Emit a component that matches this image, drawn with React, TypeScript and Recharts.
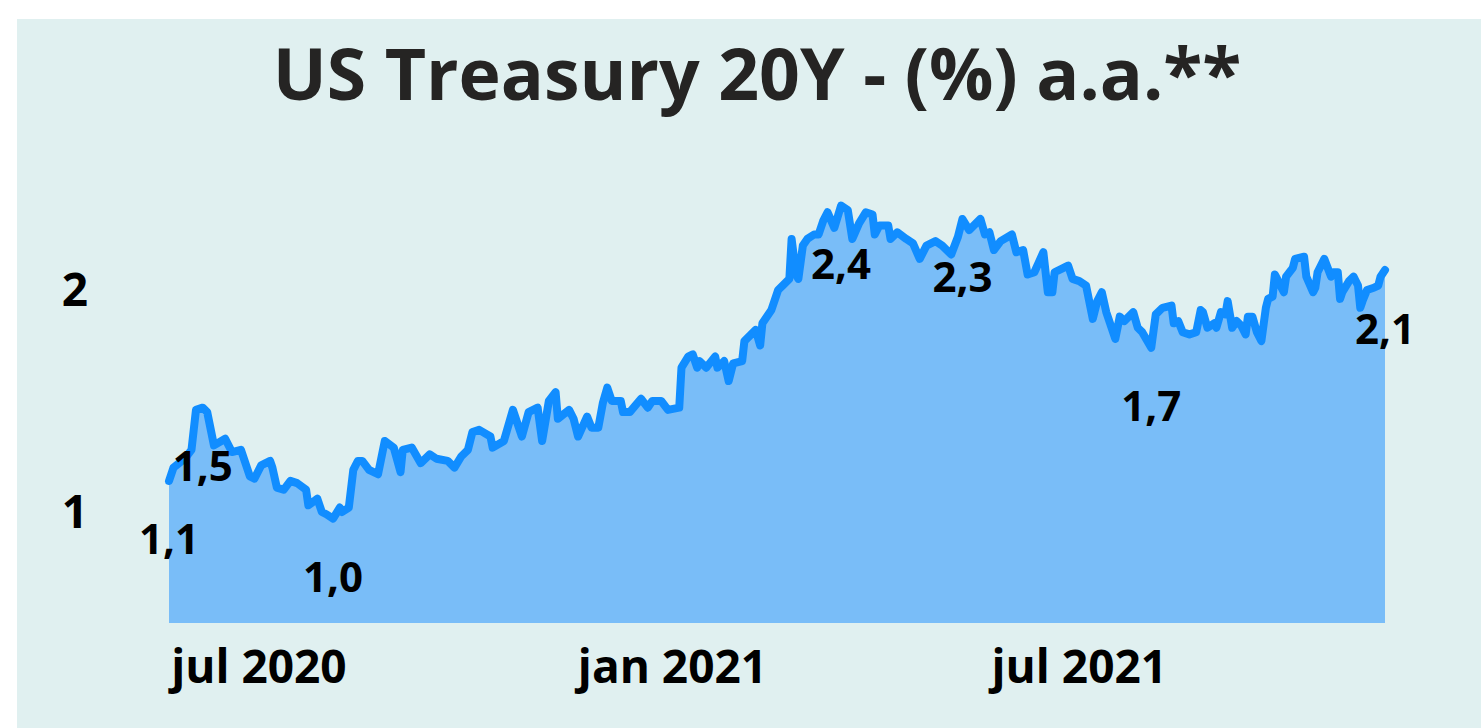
import React from 'react';
import { AreaChart, Area, XAxis, YAxis } from 'recharts';

const startDate = '2020-05-22';
// calendar days since startDate for each observation
const dayOffsets = [
  0, 2, 7, 10, 12, 15, 17, 20, 25, 28, 32, 36, 38, 41, 45, 46, 48, 51, 54, 57,
  61, 62, 66, 68, 70, 73, 76, 77, 80, 82, 84, 86, 89, 93, 96, 100, 103, 104, 108, 112,
  116, 119, 124, 127, 130, 133, 135, 138, 143, 144, 149, 153, 157, 160, 164, 166, 169, 172, 173, 178,
  180, 182, 186, 188, 191, 193, 195, 197, 201, 202, 205, 210, 213, 215, 219, 222, 227, 228, 231, 233,
  235, 236, 239, 243, 244, 247, 249, 251, 255, 256, 260, 261, 263, 264, 268, 271, 273, 276, 277, 279,
  280, 282, 284, 287, 289, 291, 293, 296, 299, 302, 304, 307, 310, 313, 314, 316, 320, 321, 324, 328,
  331, 334, 337, 341, 344, 348, 351, 353, 356, 361, 363, 365, 367, 370, 375, 377, 380, 382, 385, 389,
  391, 393, 394, 400, 402, 405, 408, 411, 413, 415, 417, 421, 423, 425, 429, 431, 433, 437, 439, 442,
  446, 447, 449, 451, 454, 457, 459, 460, 462, 465, 466, 468, 470, 471, 473, 475, 477, 479, 480, 482,
  484, 486, 488, 489, 491, 492, 493, 496, 497, 500, 501, 505, 506, 509, 510, 511, 514, 517, 518, 520,
  521, 522, 525, 527, 529, 530, 531, 533, 536, 538, 539, 541,
];

const yields = [
  1.14, 1.2, 1.24, 1.28, 1.46, 1.47, 1.45, 1.3, 1.33, 1.27, 1.28, 1.16, 1.15, 1.21, 1.23, 1.2, 1.11, 1.1, 1.14, 1.13,
  1.1, 1.03, 1.06, 1.0, 0.99, 0.97, 1.02, 1.0, 1.02, 1.19, 1.23, 1.23, 1.19, 1.17, 1.32, 1.29, 1.18, 1.28, 1.29, 1.22,
  1.26, 1.24, 1.23, 1.2, 1.25, 1.28, 1.36, 1.37, 1.34, 1.29, 1.32, 1.46, 1.34, 1.45, 1.47, 1.32, 1.5, 1.54, 1.42, 1.46,
  1.42, 1.34, 1.43, 1.38, 1.38, 1.49, 1.56, 1.5, 1.5, 1.45, 1.45, 1.51, 1.47, 1.5, 1.5, 1.46, 1.47, 1.65, 1.7, 1.71,
  1.65, 1.68, 1.65, 1.7, 1.65, 1.68, 1.59, 1.67, 1.68, 1.77, 1.81, 1.82, 1.75, 1.85, 1.91, 2.0, 2.02, 2.05, 2.23, 2.07,
  2.05, 2.2, 2.23, 2.25, 2.25, 2.31, 2.35, 2.28, 2.38, 2.36, 2.23, 2.3, 2.35, 2.34, 2.25, 2.29, 2.29, 2.23, 2.26, 2.23,
  2.21, 2.14, 2.2, 2.22, 2.2, 2.16, 2.24, 2.32, 2.27, 2.32, 2.25, 2.26, 2.18, 2.22, 2.25, 2.17, 2.18, 2.07, 2.08, 2.17,
  1.99, 1.99, 2.08, 2.11, 2.05, 2.04, 2.02, 1.87, 1.95, 1.99, 1.9, 1.78, 1.88, 1.86, 1.9, 1.83, 1.81, 1.74, 1.89, 1.92,
  1.93, 1.85, 1.86, 1.81, 1.8, 1.81, 1.91, 1.9, 1.83, 1.85, 1.83, 1.9, 1.89, 1.95, 1.83, 1.86, 1.84, 1.8, 1.88, 1.88,
  1.81, 1.77, 1.92, 1.96, 1.97, 2.07, 2.05, 1.99, 2.06, 2.1, 2.14, 2.15, 2.06, 1.99, 2.01, 2.08, 2.14, 2.06, 2.08, 2.08,
  1.96, 1.99, 2.04, 2.06, 2.02, 1.92, 1.95, 2.0, 2.01, 2.02, 2.06, 2.09,
];

// observations that carry a data label (days since startDate)
const labelDays = [0, 15, 73, 299, 353, 437, 541];

const tickDates = ['2020-07-01', '2021-01-01', '2021-07-01'];
const tickLabels = ['jul 2020', 'jan 2021', 'jul 2021'];
const yTicks = [1, 2];

const title = 'US Treasury 20Y - (%) a.a.**';

const DAY = 86400000;
const t0 = Date.parse(startDate + 'T00:00:00Z');
const data = dayOffsets.map((d, i) => ({ t: t0 + d * DAY, v: yields[i], d }));
const tickValues = tickDates.map((s) => Date.parse(s + 'T00:00:00Z'));

const FONT = '"Open Sans", "Noto Sans", sans-serif';

const renderLabel = (props: any) => {
  const { x, y, index } = props;
  const row = data[index];
  if (!row || !labelDays.includes(row.d)) return null;
  return (
    <text
      key={`lbl-${index}`}
      x={x}
      y={y + 57}
      textAnchor="middle"
      dominantBaseline="central"
      fontFamily={FONT}
      fontWeight={700}
      fontSize={42}
      fill="#000000"
    >
      {row.v.toFixed(1).replace('.', ',')}
    </text>
  );
};

export default function App() {
  return (
    <div
      style={{
        position: 'fixed',
        left: 17,
        top: 19,
        width: 1464,
        height: 709,
        background: '#E0F0F0',
        overflow: 'hidden',
      }}
    >
      <svg
        width={1464}
        height={140}
        style={{ position: 'absolute', left: 0, top: 0 }}
      >
        <text
          x={740}
          y={81}
          textAnchor="middle"
          fontFamily={FONT}
          fontWeight={700}
          fontSize={71.5}
          fill="#252423"
        >
          {title}
        </text>
      </svg>
      <div style={{ position: 'absolute', left: 0, top: 0 }}>
        <AreaChart
          width={1464}
          height={709}
          data={data}
          margin={{ top: 160, right: 96, bottom: 45, left: 0 }}
        >
          <XAxis
            dataKey="t"
            type="number"
            domain={['dataMin', 'dataMax']}
            ticks={tickValues}
            interval={0}
            tickFormatter={(v: number) => tickLabels[tickValues.indexOf(v)] ?? ''}
            axisLine={false}
            tickLine={false}
            tickSize={0}
            tickMargin={27}
            height={60}
            tick={{ fill: '#000000', fontSize: 46, fontWeight: 700, fontFamily: FONT }}
          />
          <YAxis
            type="number"
            domain={[0.5, 2.5]}
            ticks={yTicks}
            interval={0}
            axisLine={false}
            tickLine={false}
            tickSize={0}
            tickMargin={81}
            width={152}
            tick={{ fill: '#000000', fontSize: 46, fontWeight: 700, fontFamily: FONT }}
          />
          <Area
            type="linear"
            dataKey="v"
            stroke="#118DFF"
            strokeWidth={8}
            strokeLinejoin="round"
            strokeLinecap="round"
            fill="#79BDF8"
            fillOpacity={1}
            isAnimationActive={false}
            dot={false}
            activeDot={false}
            label={renderLabel}
          />
        </AreaChart>
      </div>
    </div>
  );
}
